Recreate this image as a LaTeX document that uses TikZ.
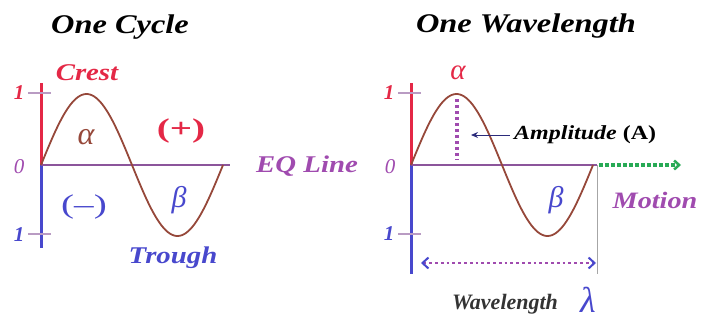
\documentclass[tikz,border=0pt]{standalone}
\usepackage{fontspec}
\setmainfont{Liberation Serif}
\newfontfamily\lblfont[FakeStretch=1.2]{Liberation Serif}
\usetikzlibrary{arrows.meta}
\definecolor{crestred}{RGB}{228,40,70}
\definecolor{troughblue}{RGB}{72,72,205}
\definecolor{eqpurple}{RGB}{160,75,175}
\definecolor{eqline}{RGB}{140,85,155}
\definecolor{wavebrown}{RGB}{150,72,58}
\definecolor{motiongreen}{RGB}{40,170,85}
\definecolor{tickgray}{RGB}{185,155,195}
\tikzset{
  lbl/.style      = {font=\lblfont\bfseries\itshape\fontsize{24}{24}\selectfont,inner sep=0pt},
  title/.style    = {font=\lblfont\bfseries\itshape\fontsize{27}{27}\selectfont,inner sep=0pt},
  numlbl/.style   = {font=\bfseries\itshape\fontsize{21}{21}\selectfont,inner sep=0pt},
  greek/.style    = {font=\itshape\fontsize{30}{30}\selectfont,inner sep=0pt},
  sign/.style     = {font=\bfseries\fontsize{27}{27}\selectfont,inner sep=0pt},
  posaxis/.style  = {crestred,line width=3pt},
  negaxis/.style  = {troughblue,line width=3pt},
  eqaxis/.style   = {eqline,line width=2.6pt},
  tickmark/.style = {tickgray,line width=1.2pt},
  sine/.style     = {wavebrown,line width=1.8pt},
  dotline/.style  = {eqpurple,line width=3.2pt,dash pattern=on 3pt off 3pt}
}
\newcommand{\wavepanel}[3]{% #1 origin x, #2 end of EQ line, #3 foot of axis
  \draw[posaxis] (#1,165) -- (#1,83);
  \draw[negaxis] (#1,165) -- (#1,#3);
  \draw[tickmark] (#1-13,93) -- (#1+10,93);
  \draw[tickmark] (#1-13,234) -- (#1+10,234);
  \draw[eqaxis] (#1,165) -- (#2,165);
  \draw[sine] plot[domain=0:360,samples=90,smooth] ({#1+\x/360*182},{165-71*sin(\x)});
}

\begin{document}
\begin{tikzpicture}[x=1pt,y=-1pt]
  \useasboundingbox (0,0) rectangle (701,322);
  % one cycle
  \wavepanel{41}{230}{248}
  \node[title] (cycle) at (120,27) {One Cycle};
  \node[lbl,crestred]   (crest)  at (87,73)   {Crest};
  \node[lbl,troughblue] (trough) at (173,258) {Trough};
  \node[lbl,eqpurple]   (eqtxt)  at (307,166) {EQ Line};
  \node[numlbl,crestred]   (onetop) at (19,93)  {1};
  \node[numlbl,eqpurple,font=\itshape\fontsize{21}{21}\selectfont] (zero) at (19,167) {0};
  \node[numlbl,troughblue] (onebot) at (19,235) {1};
  \node[greek,wavebrown,font=\itshape\fontsize{32}{32}\selectfont] (alpha) at (86,137) {α};
  \node[greek,troughblue] (beta)  at (179,200) {β};
  \node[sign,crestred]   (plus)  at (181,131) {\scalebox{1.45}[1]{(+)}};
  \node[sign,troughblue,font=\fontsize{27}{27}\selectfont] (minus) at (84,207) {\scalebox{1.45}[1]{(--)}};
  % one wavelength
  \draw[gray!70,line width=0.8pt] (597,165) -- (597,274);
  \wavepanel{411}{597}{274}
  \node[title] (wave) at (526,26) {One Wavelength};
  \node[numlbl,crestred]   (onetopb) at (389,93)  {1};
  \node[numlbl,eqpurple,font=\itshape\fontsize{21}{21}\selectfont] (zerob) at (390,167) {0};
  \node[numlbl,troughblue] (onebotb) at (389,234) {1};
  \node[greek,crestred,font=\itshape\fontsize{29}{29}\selectfont] (alphab) at (458,73) {α};
  \node[greek,troughblue] (betab)  at (556,200) {β};
  \coordinate (peak) at (457,99);
  \coordinate (peakfoot) at (457,160);
  \draw[dotline] (peak) -- (peakfoot);
  \node[lbl,font=\lblfont\bfseries\itshape\fontsize{20}{20}\selectfont,anchor=west] (amp) at (514,135) {Amplitude \textup{(A)}};
  \coordinate (amptip) at (471,135);
  \draw[-{Stealth[length=7pt,width=6pt]},troughblue!60!black,line width=1pt] ([xshift=-4pt]amp.west) -- (amptip);
  \coordinate (motstart) at (599,165);
  \coordinate (motend) at (681,165);
  \draw[motiongreen,line width=3.2pt,dash pattern=on 4pt off 2pt,-{Straight Barb[length=5pt,width=9pt,line width=2.5pt]}] (motstart) -- (motend);
  \node[lbl,eqpurple,font=\lblfont\bfseries\itshape\fontsize{23.5}{23.5}\selectfont] (motion) at (655,200) {Motion};
  \coordinate (wlstart) at (421,263);
  \coordinate (wlend) at (596,263);
  \draw[dotline,line width=2.8pt,dash pattern=on 2.8pt off 3pt,
        {Straight Barb[troughblue,length=6pt,width=11pt,line width=2pt]}-{Straight Barb[troughblue,length=6pt,width=11pt,line width=2pt]}] (wlstart) -- (wlend);
  \node[lbl,black!80,font=\bfseries\itshape\fontsize{22}{22}\selectfont] (wltxt) at (505,304) {Wavelength};
  \node[greek,troughblue,font=\itshape\fontsize{36}{36}\selectfont] (lambda) at (588,300) {λ};
\end{tikzpicture}
\end{document}
